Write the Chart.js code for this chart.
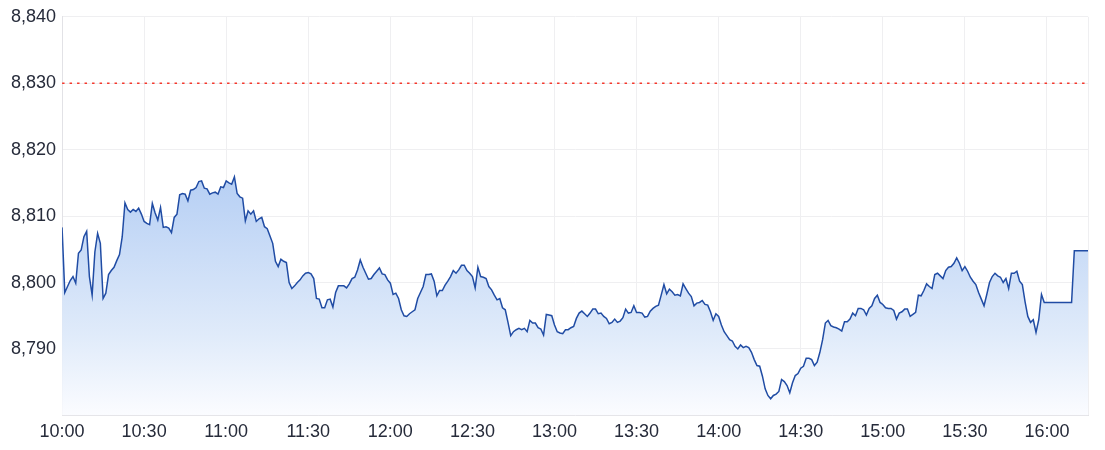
<!DOCTYPE html>
<html>
<head>
<meta charset="utf-8">
<script src="https://cdn.jsdelivr.net/npm/chart.js@4/dist/chart.umd.min.js"></script>
<style>
  html, body { margin: 0; padding: 0; background: #fff; }
  #wrap { width: 1105px; height: 450px; }
</style>
</head>
<body>
<div id="wrap"><canvas id="myChart"></canvas></div>
<script>
// index price, one value per minute from 10:00 to 15:59
var prices = [
  8808.3, 8798.5, 8799.4, 8800.3, 8800.9, 8799.9, 8804.4, 8804.9, 8806.9, 8807.7,
  8800.9, 8798.1, 8804.6, 8807.4, 8805.9, 8797.6, 8798.4, 8801.2, 8801.8, 8802.3,
  8803.3, 8804.2, 8806.9, 8812.0, 8811.0, 8810.6, 8811.0, 8810.7, 8811.2, 8810.3,
  8809.2, 8808.9, 8808.7, 8811.9, 8810.5, 8809.4, 8811.3, 8808.3, 8808.4, 8808.2,
  8807.5, 8809.8, 8810.3, 8813.2, 8813.4, 8813.3, 8812.3, 8813.9, 8814.0, 8814.3,
  8815.2, 8815.3, 8814.2, 8814.1, 8813.3, 8813.5, 8813.6, 8813.3, 8814.4, 8814.3,
  8815.3, 8815.0, 8814.8, 8815.9, 8813.4, 8812.9, 8812.7, 8809.3, 8810.8, 8810.3,
  8810.8, 8809.2, 8809.6, 8809.8, 8808.4, 8808.1, 8807.0, 8805.9, 8803.2, 8802.4,
  8803.5, 8803.2, 8803.0, 8800.0, 8799.1, 8799.5, 8800.0, 8800.4, 8801.0, 8801.4,
  8801.5, 8801.3, 8800.6, 8797.6, 8797.5, 8796.2, 8796.2, 8797.4, 8797.5, 8796.3,
  8798.5, 8799.5, 8799.5, 8799.5, 8799.2, 8799.8, 8800.6, 8800.8, 8801.9, 8803.4,
  8802.3, 8801.4, 8800.5, 8800.6, 8801.2, 8801.7, 8802.2, 8801.3, 8801.2, 8800.4,
  8799.9, 8798.2, 8798.4, 8797.6, 8795.9, 8795.0, 8794.9, 8795.3, 8795.6, 8795.9,
  8797.6, 8798.5, 8799.4, 8801.2, 8801.2, 8801.3, 8800.2, 8798.0, 8798.8, 8798.8,
  8799.6, 8800.2, 8800.9, 8801.8, 8801.4, 8801.9, 8802.6, 8802.6, 8801.8, 8801.4,
  8800.9, 8799.2, 8802.3, 8800.9, 8800.8, 8800.6, 8799.4, 8798.9, 8798.1, 8797.4,
  8797.6, 8796.2, 8795.9, 8794.0, 8792.0, 8792.6, 8792.9, 8793.1, 8792.9, 8793.1,
  8792.6, 8794.3, 8793.9, 8793.9, 8793.2, 8793.0, 8792.1, 8795.2, 8795.1, 8795.0,
  8793.6, 8792.6, 8792.4, 8792.3, 8792.9, 8792.9, 8793.2, 8793.4, 8794.6, 8795.4,
  8795.7, 8795.3, 8794.9, 8795.4, 8796.0, 8796.0, 8795.3, 8795.4, 8794.9, 8794.6,
  8793.8, 8794.0, 8794.5, 8794.0, 8794.2, 8794.7, 8796.0, 8795.4, 8795.5, 8796.5,
  8795.5, 8795.5, 8795.4, 8794.8, 8794.9, 8795.7, 8796.1, 8796.4, 8796.6, 8798.1,
  8799.7, 8798.3, 8799.0, 8798.6, 8798.1, 8798.2, 8798.0, 8799.8, 8799.1, 8798.4,
  8797.9, 8796.5, 8796.9, 8797.0, 8797.3, 8796.7, 8796.6, 8795.6, 8794.3, 8795.3,
  8794.9, 8793.6, 8792.6, 8792.0, 8791.4, 8791.2, 8790.4, 8790.0, 8790.6, 8790.2,
  8790.4, 8790.2, 8789.5, 8788.4, 8787.5, 8787.4, 8785.9, 8784.0, 8783.0, 8782.5,
  8783.0, 8783.2, 8783.6, 8785.4, 8785.1, 8784.5, 8783.4, 8784.9, 8786.0, 8786.3,
  8787.1, 8787.4, 8788.6, 8788.6, 8788.4, 8787.5, 8788.0, 8789.5, 8791.4, 8793.9,
  8794.3, 8793.5, 8793.3, 8793.2, 8793.0, 8792.7, 8794.1, 8794.1, 8794.5, 8795.4,
  8795.0, 8796.1, 8796.1, 8795.9, 8795.1, 8796.1, 8796.5, 8797.6, 8798.1, 8797.0,
  8796.7, 8796.2, 8796.1, 8796.1, 8795.8, 8794.5, 8795.4, 8795.6, 8796.0, 8796.0,
  8794.9, 8795.2, 8795.5, 8798.1, 8798.0, 8798.8, 8799.8, 8799.4, 8799.1, 8801.2,
  8801.4, 8801.0, 8800.6, 8801.8, 8802.3, 8802.4, 8802.9, 8803.7, 8802.9, 8801.8,
  8802.4, 8801.7, 8800.8, 8800.2, 8799.7, 8798.5, 8797.5, 8796.5, 8798.2, 8800.0,
  8800.9, 8801.4, 8801.0, 8800.8, 8800.0, 8800.6, 8799.1, 8801.4, 8801.4, 8801.7,
  8800.2, 8799.7, 8797.1, 8794.9, 8794.0, 8794.4, 8792.5, 8794.4, 8798.2, 8797.0
];
// closing auction (minutes after 10:00)
var lateMinutes = [369, 370, 375];
var lateValues = [8797.0, 8804.8, 8804.8];

var prevClose = 8830;
var yTicks = [8780, 8790, 8800, 8810, 8820, 8830, 8840];
var xTicks = [0, 30, 60, 90, 120, 150, 180, 210, 240, 270, 300, 330, 360, 375];
var startHour = 10;
var endMinute = 375;

function hhmm(m){
	var h = startHour + Math.floor(m / 60);
	var mm = m % 60;
	return h + ':' + (mm < 10 ? '0' + mm : mm);
}

var lineData = [];
for(let i=0;i<prices.length;i++){
	lineData.push({ x: i, y: prices[i] });
}
for(let i=0;i<lateMinutes.length;i++){
	lineData.push({ x: lateMinutes[i], y: lateValues[i] });
}

function fillGradient(context){
	const chart = context.chart;
	const area = chart.chartArea;
	if(!area){
		return 'rgba(185,210,244,0.8)';
	}
	const g = chart.ctx.createLinearGradient(0, area.top, 0, area.bottom);
	g.addColorStop(0, 'rgb(164,196,240)');
	g.addColorStop(0.4, 'rgb(182,207,244)');
	g.addColorStop(0.8, 'rgb(224,235,250)');
	g.addColorStop(1, 'rgb(251,252,255)');
	return g;
}

Chart.defaults.font.family = '"Liberation Sans", Arial, sans-serif';
Chart.defaults.font.size = 18;
Chart.defaults.color = '#262b3a';

const ctx = document.getElementById('myChart');
var chart1 = new Chart(ctx, {
	type: 'line',
	data: {
		datasets: [{
			label: 'Index',
			data: lineData,
			borderColor: 'rgb(32,76,164)',
			borderWidth: 1.5,
			backgroundColor: fillGradient,
			fill: 'start',
			pointRadius: 0,
			tension: 0
		}, {
			label: 'Previous close',
			data: [{ x: 0, y: prevClose }, { x: endMinute, y: prevClose }],
			borderColor: 'rgb(244,56,44)',
			borderWidth: 1.5,
			borderDash: [2.5, 5],
			fill: false,
			pointRadius: 0
		}]
	},
	options: {
		responsive: true,
		maintainAspectRatio: false,
		animation: false,
		layout: {
			padding: { top: 6, right: 17, bottom: 1, left: 5 }
		},
		plugins: {
			legend: { display: false },
			tooltip: { enabled: false }
		},
		scales: {
			x: {
				type: 'linear',
				min: 0,
				max: endMinute,
				afterBuildTicks: function(axis){
					axis.ticks = xTicks.map(function(v){ return { value: v }; });
				},
				grid: { color: '#efeff1', drawTicks: false },
				border: { color: '#e2e2e6' },
				ticks: {
					padding: 6,
					maxRotation: 0,
					autoSkip: false,
					callback: function(v){
						return v % 30 == 0 ? hhmm(v) : '';
					}
				}
			},
			y: {
				min: yTicks[0],
				max: yTicks[yTicks.length-1],
				afterBuildTicks: function(axis){
					axis.ticks = yTicks.map(function(v){ return { value: v }; });
				},
				grid: { color: '#efeff1', drawTicks: false },
				border: { color: '#e2e2e6' },
				ticks: {
					padding: 6,
					callback: function(v){
						return v == yTicks[0] ? '' : v.toLocaleString('en-US');
					}
				}
			}
		}
	}
});
</script>
</body>
</html>
